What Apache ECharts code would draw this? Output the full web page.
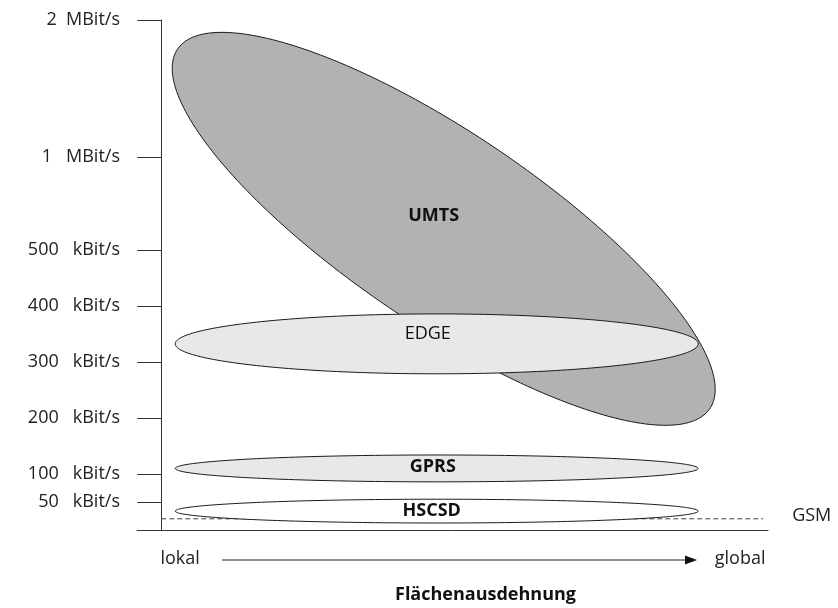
<!DOCTYPE html>
<html><head><meta charset="utf-8">
<script src="https://cdn.jsdelivr.net/npm/echarts@6/dist/echarts.min.js"></script>
<style>html,body{margin:0;padding:0;background:#fff}#c{width:838px;height:608px}</style>
</head><body><div id="c"></div>
<script>
// ---- data ----
// Y tick marks (rates in kBit/s) and their labels
const tickRates = [50, 100, 200, 300, 400, 500, 1000, 2000];
const tickLabels = ['50   kBit/s', '100   kBit/s', '200   kBit/s', '300   kBit/s', '400   kBit/s', '500   kBit/s', '1   MBit/s', '2  MBit/s'];
// scale breakpoints (kBit/s -> axis units): linear up to 500, compressed above
const scaleRates = [0, 500, 1000, 2000];
const scaleUnits = [0, 500, 666, 911];

// technologies: coverage (lokal = 0 ... global = 100) and data rate range (kBit/s)
const techNames = ['UMTS', 'EDGE', 'GPRS', 'HSCSD'];
const techCoverMin = [1.8, 2.3, 2.3, 2.3];
const techCoverMax = [91.3, 88.5, 88.5, 88.5];
const techCoverAtPeak = [10.0, 45.4, 45.4, 45.4]; // coverage where the max rate is reached
const techRateMin = [187, 279, 86, 12.5];
const techRateMax = [1910, 386, 134, 55];

const gsmName = 'GSM';
const gsmRate = 20;
const gsmCover = [0, 99.2];
const axisEndNames = ['lokal', 'global'];
const axisEndCover = [3.1, 95.4];
const arrowCover = [10.0, 88.3];
const xTitle = 'Flächenausdehnung';

// ---- styles ----
const FONT = "'Open Sans', 'DejaVu Sans', sans-serif";
const techFill = ['#b2b2b2', '#e8e8e8', '#e8e8e8', '#ffffff'];
const techBold = [true, false, true, true];
const techLabelShift = [[-10, -13], [-9, -10], [-4, -2], [-5, 0]];

function T(rate) {
  for (let i = 1; i < scaleRates.length; i++) {
    if (rate <= scaleRates[i] || i === scaleRates.length - 1) {
      const f = (rate - scaleRates[i - 1]) / (scaleRates[i] - scaleRates[i - 1]);
      return scaleUnits[i - 1] + f * (scaleUnits[i] - scaleUnits[i - 1]);
    }
  }
}
const tickUnits = tickRates.map(T);

function renderEllipse(params, api) {
  const i = params.dataIndex;
  const pTL = api.coord([api.value(0), api.value(3)]);
  const pBR = api.coord([api.value(2), api.value(1)]);
  const xp = api.coord([api.value(4), api.value(1)])[0];
  const xl = pTL[0], yt = pTL[1], xr = pBR[0], yb = pBR[1];
  const cx = (xl + xr) / 2, cy = (yt + yb) / 2, sx = (xr - xl) / 2, sy = (yb - yt) / 2;
  const sxy = -(xp - cx) * sy;
  const k = sxy / sx;
  const m = Math.sqrt(Math.max(sy * sy - k * k, 0));
  const pts = [];
  const N = 240;
  for (let j = 0; j < N; j++) {
    const t = j / N * 2 * Math.PI;
    pts.push([cx + sx * Math.cos(t), cy + k * Math.cos(t) + m * Math.sin(t)]);
  }
  return {
    type: 'group',
    children: [
      { type: 'polygon', shape: { points: pts }, style: { fill: techFill[i], stroke: '#1a1a1a', lineWidth: 1 } },
      { type: 'text', z2: 10, style: {
          text: techNames[i], x: cx + techLabelShift[i][0], y: cy + techLabelShift[i][1],
          align: 'center', verticalAlign: 'middle',
          fontSize: 18, fontWeight: techBold[i] ? 'bold' : 'normal', fontFamily: FONT, fill: '#111'
      } }
    ]
  };
}

function renderArrow(params, api) {
  const p0 = api.coord([api.value(0), api.value(1)]);
  const p1 = api.coord([api.value(2), api.value(1)]);
  const y = p0[1] + 30;
  return {
    type: 'group',
    children: [
      { type: 'line', shape: { x1: p0[0], y1: y, x2: p1[0] - 11, y2: y }, style: { stroke: '#222', lineWidth: 1 } },
      { type: 'polygon', shape: { points: [[p1[0], y], [p1[0] - 12, y - 4.5], [p1[0] - 12, y + 4.5]] }, style: { fill: '#111' } }
    ]
  };
}

function renderGsmLabel(params, api) {
  const p = api.coord([api.value(0), api.value(1)]);
  return { type: 'text', style: { text: gsmName, x: p[0] + 29, y: p[1] - 3, align: 'left', verticalAlign: 'middle',
    fontSize: 18, fontFamily: FONT, fill: '#222' } };
}

const chart = echarts.init(document.getElementById('c'), null, { renderer: 'canvas' });
chart.setOption({
  animation: false,
  backgroundColor: '#fff',
  title: {
    text: xTitle, left: 395, top: 586, padding: 0,
    textStyle: { fontSize: 18, fontWeight: 'bold', fontFamily: FONT, color: '#111' }
  },
  grid: { left: 137, right: 70, top: 20, bottom: 78 },
  xAxis: {
    type: 'value', min: -4, max: 100,
    splitLine: { show: false },
    axisTick: { show: false },
    axisLine: { onZero: true, lineStyle: { color: '#333', width: 1 } },
    axisLabel: {
      customValues: axisEndCover,
      formatter: v => axisEndNames[axisEndCover.indexOf(v)],
      margin: 20, fontSize: 18, fontFamily: FONT, color: '#222'
    }
  },
  yAxis: {
    type: 'value', min: 0, max: scaleUnits[scaleUnits.length - 1],
    splitLine: { show: false },
    axisLine: { show: true, onZero: true, lineStyle: { color: '#333', width: 1 } },
    axisTick: { show: true, customValues: tickUnits, length: 24, lineStyle: { color: '#333', width: 1 } },
    axisLabel: {
      customValues: tickUnits,
      formatter: v => { let b = 0; tickUnits.forEach((u, i) => { if (Math.abs(u - v) < Math.abs(tickUnits[b] - v)) b = i; }); return tickLabels[b]; },
      margin: 17, fontSize: 18, fontFamily: FONT, color: '#222'
    }
  },
  series: [
    {
      type: 'line', z: 1, symbol: 'none', silent: true,
      data: [[gsmCover[0], T(gsmRate)], [gsmCover[1], T(gsmRate)]],
      lineStyle: { color: '#444', width: 1, type: [5, 3] }
    },
    {
      type: 'custom', z: 2, renderItem: renderEllipse, clip: false,
      encode: { x: [0, 2, 4], y: [1, 3] },
      data: techNames.map((n, i) => [techCoverMin[i], T(techRateMin[i]), techCoverMax[i], T(techRateMax[i]), techCoverAtPeak[i]])
    },
    {
      type: 'custom', z: 3, renderItem: renderArrow, clip: false,
      encode: { x: [0, 2], y: 1 },
      data: [[arrowCover[0], 0, arrowCover[1]]]
    },
    {
      type: 'custom', z: 3, renderItem: renderGsmLabel, clip: false,
      encode: { x: 0, y: 1 },
      data: [[gsmCover[1], T(gsmRate)]]
    }
  ]
});
</script>
</body></html>
